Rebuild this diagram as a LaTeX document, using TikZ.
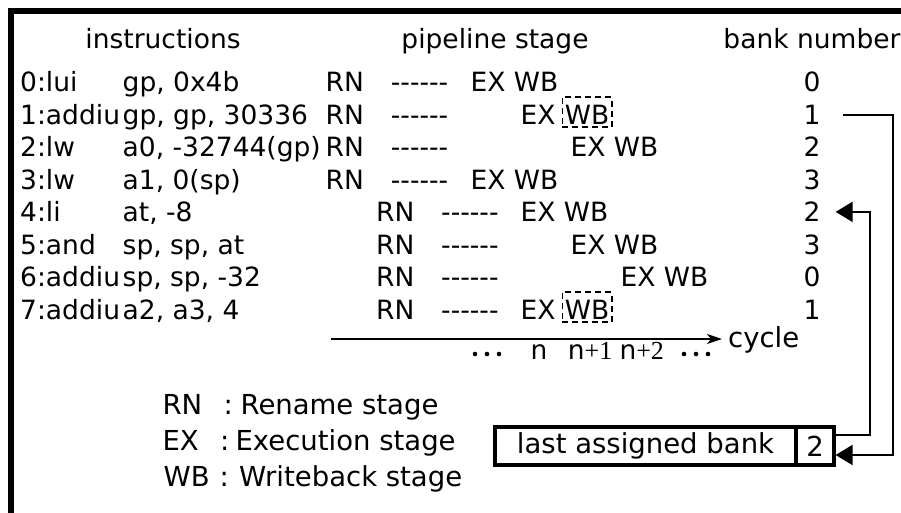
\documentclass[tikz,border=0pt]{standalone}
\usepackage{fontspec}
\usetikzlibrary{arrows.meta}
% Sans family without TeX ligatures, so "------" stays six hyphens
\newfontfamily\dvs{DejaVu Sans}
\newfontfamily\lser{Liberation Serif}
\newcommand\tabsize{\fontsize{26.5}{30}\selectfont}
\newcommand\bigsize{\fontsize{27.5}{32}\selectfont}
\newcommand\sersize{\fontsize{26}{28}\selectfont}

\begin{document}
\begin{tikzpicture}[x=1pt,y=-1pt,
  every node/.style={inner sep=0pt, font=\dvs\tabsize},
  cell/.style={anchor=base west},
  ctr/.style={anchor=base},
  big/.style={font=\dvs\bigsize},
  wbbox/.style={anchor=base west, draw, dash pattern=on 6pt off 4pt,
    line width=1.8pt, inner xsep=2.5pt, inner ysep=2.5pt,
    text height=24.5pt, text depth=0.5pt},
  regbox/.style={draw, line width=3.2pt, minimum height=38pt},
  arr/.style={line width=2pt, line join=miter,
    -{Triangle[length=17pt,width=20pt]}},
  axis/.style={line width=2pt, -{Stealth[length=15pt,width=10pt,inset=4pt]}},
  dot/.style={fill=black}
]
\useasboundingbox (0,0) rectangle (901,512);
\clip (0,0) rectangle (901,512);

% outer frame (runs past the right and bottom edges)
\draw[line width=5.5pt] (11,11) rectangle (1000,700);

% column headings
\node[ctr] (hins) at (163,48) {instructions};
\node[ctr] (hpipe) at (495,48) {pipeline stage};
\node[ctr] (hbank) at (812,48) {bank number};

% row 0
\node[cell] (m0) at (20,91.7) {0:lui};
\node[cell] (o0) at (122.5,91.7) {gp, 0x4b};
\node[cell] (r0) at (325.4,91.7) {RN};
\node[cell] (d0) at (390.7,91.7) {------};
\node[cell] (e0) at (470.4,91.7) {EX WB};
\node[ctr]  (b0) at (812,91.7) {0};
% row 1
\node[cell] (m1) at (20,124.2) {1:addiu};
\node[cell] (o1) at (122.5,124.2) {gp, gp, 30336};
\node[cell] (r1) at (325.4,124.2) {RN};
\node[cell] (d1) at (390.7,124.2) {------};
\node[cell] (e1) at (520.4,124.2) {EX};
\node[wbbox] (w1) at (561.5,124.2) {WB};
\node[ctr]  (b1) at (812,124.2) {1};
% row 2
\node[cell] (m2) at (20,156.7) {2:lw};
\node[cell] (o2) at (122.5,156.7) {a0, -32744(gp)};
\node[cell] (r2) at (325.4,156.7) {RN};
\node[cell] (d2) at (390.7,156.7) {------};
\node[cell] (e2) at (570.4,156.7) {EX WB};
\node[ctr]  (b2) at (812,156.7) {2};
% row 3
\node[cell] (m3) at (20,189.2) {3:lw};
\node[cell] (o3) at (122.5,189.2) {a1, 0(sp)};
\node[cell] (r3) at (325.4,189.2) {RN};
\node[cell] (d3) at (390.7,189.2) {------};
\node[cell] (e3) at (470.4,189.2) {EX WB};
\node[ctr]  (b3) at (812,189.2) {3};
% row 4
\node[cell] (m4) at (20,221.7) {4:li};
\node[cell] (o4) at (122.5,221.7) {at, -8};
\node[cell] (r4) at (376,221.7) {RN};
\node[cell] (d4) at (441,221.7) {------};
\node[cell] (e4) at (520.4,221.7) {EX WB};
\node[ctr]  (b4) at (812,221.7) {2};
% row 5
\node[cell] (m5) at (20,254.2) {5:and};
\node[cell] (o5) at (122.5,254.2) {sp, sp, at};
\node[cell] (r5) at (376,254.2) {RN};
\node[cell] (d5) at (441,254.2) {------};
\node[cell] (e5) at (570.4,254.2) {EX WB};
\node[ctr]  (b5) at (812,254.2) {3};
% row 6
\node[cell] (m6) at (20,286.7) {6:addiu};
\node[cell] (o6) at (122.5,286.7) {sp, sp, -32};
\node[cell] (r6) at (376,286.7) {RN};
\node[cell] (d6) at (441,286.7) {------};
\node[cell] (e6) at (620.4,286.7) {EX WB};
\node[ctr]  (b6) at (812,286.7) {0};
% row 7
\node[cell] (m7) at (20,319.2) {7:addiu};
\node[cell] (o7) at (122.5,319.2) {a2, a3, 4};
\node[cell] (r7) at (376,319.2) {RN};
\node[cell] (d7) at (441,319.2) {------};
\node[cell] (e7) at (520.4,319.2) {EX};
\node[wbbox] (w7) at (561.5,319.2) {WB};
\node[ctr]  (b7) at (812,319.2) {1};

% cycle axis
\node[cell, big] (cyc) at (728,347) {cycle};
\coordinate (ax0) at (331,339);
\draw[axis] (ax0) -- ([xshift=-6pt]cyc.west |- ax0);
\node[cell] (tn)  at (530.3,359) {n};
\node[cell] (tn1) at (567.6,359) {n{\lser\sersize +1}};
\node[cell] (tn2) at (619.3,359) {n{\lser\sersize +2}};
\foreach \x in {475,487,499,684,696,708}
  \fill[dot] (\x,354) circle (2.3pt);

% legend
\node[cell, big] (lrn) at (162.4,414) {RN};
\node[cell, big] (crn) at (223.5,414) {:};
\node[cell, big] (trn) at (240.4,414) {Rename stage};
\node[cell, big] (lex) at (162.4,450.7) {EX};
\node[cell, big] (cex) at (219.8,450.7) {:};
\node[cell, big] (tex) at (235.4,450.7) {Execution stage};
\node[cell, big] (lwb) at (163.5,486.7) {WB};
\node[cell, big] (cwb) at (219.5,486.7) {:};
\node[cell, big] (twb) at (239,486.7) {Writeback stage};

% last assigned bank register
\node[regbox, big, minimum width=301pt] (last) at (645.5,446) {last assigned bank};
\node[regbox, big, minimum width=38pt] (val) at (815,446) {2};

% connectors
\coordinate (up1) at (893,300);
\coordinate (up2) at (870,300);
\draw[arr] ([xshift=22pt]b1.east) -| (up1) |- ([yshift=-9pt]val.east);
\draw[arr] ([yshift=11pt]val.east) -| (up2) |- ([xshift=15pt]b4.east);
\end{tikzpicture}
\end{document}
